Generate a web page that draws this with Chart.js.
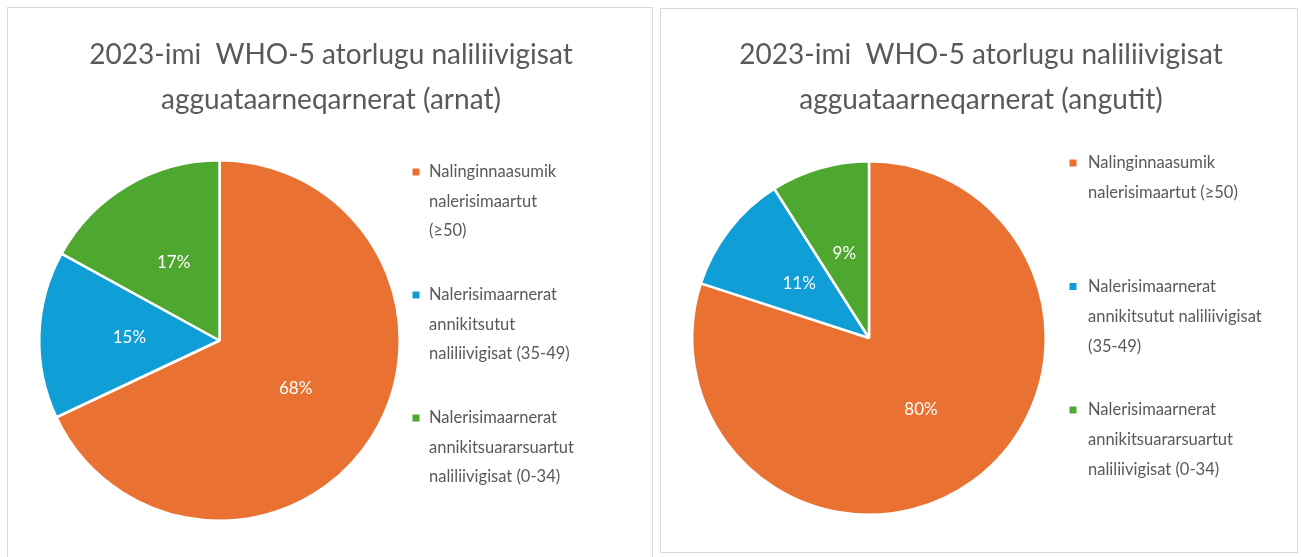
<!DOCTYPE html>
<html><head><meta charset="utf-8">
<script src="https://cdn.jsdelivr.net/npm/chart.js@4.4.1/dist/chart.umd.min.js"></script>
<style>
html,body{margin:0;padding:0;background:#fff;width:1301px;height:557px;overflow:hidden;}
.panel{position:absolute;border:1px solid #d9d9d9;box-sizing:border-box;background:#fff}
#p1{left:7px;top:7px;width:646px;height:560px}
#p2{left:660px;top:8px;width:638px;height:545px}
canvas{position:absolute;left:0;top:0}
</style></head><body>
<div class="panel" id="p1"><canvas id="c1" width="644" height="549"></canvas></div>
<div class="panel" id="p2"><canvas id="c2" width="636" height="543"></canvas></div>
<script>
const categories = [
  "Nalinginnaasumik nalerisimaartut (≥50)",
  "Nalerisimaarnerat annikitsutut naliliivigisat (35-49)",
  "Nalerisimaarnerat annikitsuararsuartut naliliivigisat (0-34)"
];
const womenValues = [68, 15, 17];
const menValues = [80, 11, 9];
const titleWomen = ["2023-imi  WHO-5 atorlugu naliliivigisat", "agguataarneqarnerat (arnat)"];
const titleMen = ["2023-imi  WHO-5 atorlugu naliliivigisat", "agguataarneqarnerat (angutit)"];
const legendLinesWomen = [
  ["Nalinginnaasumik", "nalerisimaartut", "(≥50)"],
  ["Nalerisimaarnerat", "annikitsutut", "naliliivigisat (35-49)"],
  ["Nalerisimaarnerat", "annikitsuararsuartut", "naliliivigisat (0-34)"]
];
const legendLinesMen = [
  ["Nalinginnaasumik", "nalerisimaartut (≥50)"],
  ["Nalerisimaarnerat", "annikitsutut naliliivigisat", "(35-49)"],
  ["Nalerisimaarnerat", "annikitsuararsuartut", "naliliivigisat (0-34)"]
];
const colors = ["#E97132", "#0F9ED5", "#4EA72E"];

const FONT = "Lato, 'Open Sans', sans-serif";

const panelText = {
  id: 'panelText',
  afterDraw(chart, args, o) {
    const ctx = chart.ctx;
    ctx.save();
    const meta = chart.getDatasetMeta(0);
    const ds = chart.data.datasets[0];
    ctx.fillStyle = '#ffffff';
    ctx.font = o.pctSize + 'px ' + FONT;
    ctx.textAlign = 'center';
    ctx.textBaseline = 'middle';
    meta.data.forEach((arc, i) => {
      const p = arc.tooltipPosition();
      ctx.fillText(ds.data[i] + '%', p.x, p.y);
    });
    ctx.fillStyle = '#595959';
    ctx.font = o.titleSize + 'px ' + FONT;
    o.title.forEach((line, i) => ctx.fillText(line, o.titleX, o.titleY + i * o.titleLH));
    ctx.font = o.legSize + 'px ' + FONT;
    ctx.textAlign = 'left';
    o.legend.forEach((lines, i) => {
      const y0 = o.legY + i * o.legGap;
      ctx.fillStyle = ds.backgroundColor[i];
      ctx.fillRect(o.boxX - 3.5, y0 - 3.5, 7, 7);
      ctx.fillStyle = '#595959';
      lines.forEach((l, j) => ctx.fillText(l, o.textX, y0 + j * o.legLH));
    });
    ctx.restore();
  }
};

function makeChart(id, values, title, legend, pad, txt) {
  return new Chart(document.getElementById(id), {
    type: 'pie',
    data: {
      labels: categories,
      datasets: [{
        data: values,
        backgroundColor: colors,
        borderColor: '#ffffff',
        borderWidth: 2.5
      }]
    },
    options: {
      responsive: false,
      animation: false,
      layout: { padding: pad },
      plugins: {
        legend: { display: false },
        tooltip: { enabled: false },
        title: { display: false },
        panelText: Object.assign({ title: title, legend: legend }, txt)
      }
    },
    plugins: [panelText]
  });
}

makeChart('c1', womenValues, titleWomen, legendLinesWomen,
  { left: 30, right: 251, top: 151, bottom: 35 },
  { pctSize: 17, titleSize: 28, titleX: 323, titleY: 47, titleLH: 45,
    legSize: 16.5, boxX: 408, textX: 421, legY: 164, legGap: 123, legLH: 29.5 });

makeChart('c2', menValues, titleMen, legendLinesMen,
  { left: 30, right: 250, top: 151, bottom: 36 },
  { pctSize: 17, titleSize: 28, titleX: 320, titleY: 46, titleLH: 45,
    legSize: 16.5, boxX: 412, textX: 427, legY: 154, legGap: 123.5, legLH: 30 });
</script>
</body></html>
